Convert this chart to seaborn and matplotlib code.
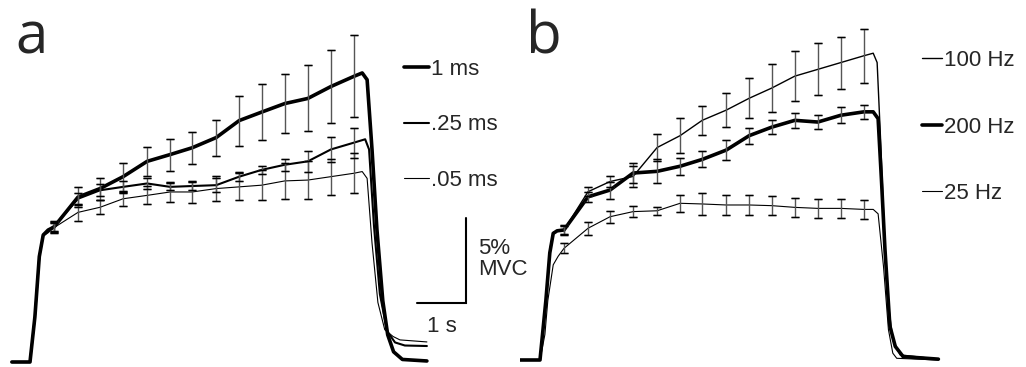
import numpy as np
import pandas as pd
import matplotlib
matplotlib.use("Agg")
import matplotlib.pyplot as plt
import seaborn as sns

sns.set_style("white")
plt.rcParams['font.family'] = ['Liberation Sans', 'DejaVu Sans']

# ---------------- data (time in s, force in % MVC) ----------------
t_err = [0.49, 0.98, 1.43, 1.90, 2.39, 2.86, 3.31, 3.80, 4.27, 4.73, 5.20, 5.67, 6.14, 6.61]

# Panel a : pulse width
a_labels = ["1 ms", ".25 ms", ".05 ms"]
a_rise_t = [-0.37, 0.0, 0.10, 0.19, 0.27, 0.37]
a_1ms_rise = [0, 0, 2.65, 6.2, 7.47, 7.76]
a_1ms_mean = [7.94, 9.7, 10.2, 10.9, 11.8, 12.2, 12.6, 13.2, 14.2, 14.7, 15.2, 15.5, 16.2, 16.8]
a_1ms_sem = [0.3, 0.6, 0.65, 0.82, 0.85, 0.94, 0.94, 1.06, 1.47, 1.65, 1.76, 1.94, 2.15, 2.41]
a_1ms_fall_t = [6.78, 6.88, 6.98, 7.08, 7.2, 7.3, 7.42, 7.6, 8.1]
a_1ms_fall = [17.0, 16.6, 12.5, 7.8, 3.6, 1.6, 0.6, 0.15, 0.06]

a_025_rise = [0, 0, 2.65, 6.2, 7.47, 7.7]
a_025_mean = [8.0, 9.6, 10.1, 10.3, 10.5, 10.3, 10.35, 10.4, 10.9, 11.3, 11.6, 11.8, 12.5, 12.9]
a_025_sem = [0.3, 0.35, 0.35, 0.35, 0.3, 0.2, 0.25, 0.4, 0.25, 0.25, 0.35, 0.6, 0.76, 0.88]
a_025_fall_t = [6.84, 6.92, 7.02, 7.14, 7.29, 7.45, 7.65, 8.1]
a_025_fall = [13.1, 12.5, 8.0, 4.0, 1.8, 1.15, 0.97, 0.94]

a_005_rise = [0, 0, 2.65, 6.2, 7.4, 7.6]
a_005_mean = [7.9, 8.8, 9.1, 9.6, 9.8, 10.0, 10.0, 10.2, 10.3, 10.4, 10.65, 10.7, 10.9, 11.1]
a_005_sem = [0.3, 0.5, 0.4, 0.4, 0.53, 0.6, 0.65, 0.76, 0.8, 0.88, 1.04, 1.1, 1.06, 1.18]
a_005_fall_t = [6.78, 6.88, 6.98, 7.1, 7.24, 7.41, 7.55, 8.1]
a_005_fall = [11.2, 10.8, 7.0, 3.5, 1.9, 1.5, 1.3, 1.18]

# Panel b : frequency
b_labels = ["100 Hz", "200 Hz", "25 Hz"]
b_rise_t = [-0.41, 0.0, 0.12, 0.2, 0.27, 0.35]
b_100_rise = [0, 0, 3.5, 6.5, 7.5, 7.6]
b_100_mean = [7.65, 9.9, 10.5, 10.8, 12.5, 13.2, 14.1, 14.7, 15.4, 16.0, 16.7, 17.1, 17.5, 17.9]
b_100_sem = [0.25, 0.25, 0.3, 0.6, 0.8, 1.05, 0.85, 1.0, 1.18, 1.41, 1.47, 1.53, 1.53, 1.59]
b_100_fall_t = [6.80, 6.88, 6.95, 7.02, 7.1, 7.2, 7.35, 8.13]
b_100_fall = [18.05, 17.5, 13.0, 8.0, 3.5, 1.2, 0.3, 0.05]

b_200_rise = [0, 0, 3.5, 6.3, 7.45, 7.6]
b_200_mean = [7.65, 9.6, 10.0, 11.0, 11.1, 11.4, 11.8, 12.35, 13.2, 13.7, 14.1, 14.0, 14.4, 14.6]
b_200_sem = [0.3, 0.3, 0.5, 0.6, 0.7, 0.5, 0.47, 0.59, 0.47, 0.41, 0.44, 0.41, 0.47, 0.41]
b_200_fall_t = [6.80, 6.90, 6.97, 7.04, 7.14, 7.25, 7.41, 8.13]
b_200_fall = [14.6, 14.2, 10.5, 6.5, 2.0, 0.8, 0.2, 0.05]

b_25_rise_t = [-0.41, 0.0, 0.10, 0.16, 0.27, 0.37]
b_25_rise = [0, 0, 1.5, 3.5, 5.6, 6.1]
b_25_mean = [6.57, 7.75, 8.43, 8.73, 8.78, 9.22, 9.18, 9.12, 9.12, 9.08, 8.98, 8.92, 8.92, 8.86]
b_25_sem = [0.29, 0.39, 0.35, 0.34, 0.25, 0.49, 0.62, 0.56, 0.56, 0.54, 0.54, 0.56, 0.57, 0.56]
b_25_fall_t = [6.80, 6.90, 7.01, 7.11, 7.2, 7.28, 8.13]
b_25_fall = [8.86, 8.6, 5.5, 1.8, 0.4, 0.1, 0.0]

scale_force = 5   # % MVC
scale_time = 1    # s

# ---------------- figure ----------------
fig = plt.figure(figsize=(10.26, 3.67), dpi=100)
ax_a = fig.add_axes([0, 0, 520 / 1026, 1])
ax_b = fig.add_axes([520 / 1026, 0, 506 / 1026, 1])
ax_a.set_xlim(-0.612, 10.0)
ax_a.set_ylim(-0.294, 21.29)
ax_b.set_xlim(-0.408, 9.918)
ax_b.set_ylim(-0.412, 21.18)


def draw(ax, rise_t, rise, mean, sem, fall_t, fall, lw, label):
    t = list(rise_t) + list(t_err) + list(fall_t)
    f = list(rise) + list(mean) + list(fall)
    df = pd.DataFrame({"t": t, "f": f})
    sns.lineplot(data=df, x="t", y="f", ax=ax, color="black", linewidth=lw,
                 sort=False, estimator=None, label=label)
    ax.errorbar(t_err, mean, yerr=sem, fmt="none", ecolor="#555555",
                elinewidth=1.0, capsize=3, capthick=1.0, zorder=3)
    ax.errorbar(t_err, mean, yerr=sem, fmt="none", ecolor="black",
                elinewidth=0, capsize=3, capthick=1.0, zorder=4)


draw(ax_a, a_rise_t, a_1ms_rise, a_1ms_mean, a_1ms_sem, a_1ms_fall_t, a_1ms_fall, 2.6, a_labels[0])
draw(ax_a, a_rise_t, a_025_rise, a_025_mean, a_025_sem, a_025_fall_t, a_025_fall, 1.5, a_labels[1])
draw(ax_a, a_rise_t, a_005_rise, a_005_mean, a_005_sem, a_005_fall_t, a_005_fall, 0.8, a_labels[2])

draw(ax_b, b_rise_t, b_100_rise, b_100_mean, b_100_sem, b_100_fall_t, b_100_fall, 1.0, b_labels[0])
draw(ax_b, b_rise_t, b_200_rise, b_200_mean, b_200_sem, b_200_fall_t, b_200_fall, 2.6, b_labels[1])
draw(ax_b, b_25_rise_t, b_25_rise, b_25_mean, b_25_sem, b_25_fall_t, b_25_fall, 0.8, b_labels[2])

for ax in (ax_a, ax_b):
    ax.set_axis_off()

leg_a = ax_a.legend(loc="upper left", bbox_to_anchor=(404 / 520, 1 - 59 / 367),
                    frameon=False, fontsize=16, handlelength=1.13, handletextpad=0.08,
                    labelspacing=1.55, borderaxespad=0, borderpad=0)
leg_b = ax_b.legend(loc="upper left", bbox_to_anchor=((922 - 520) / 506, 1 - 50 / 367),
                    frameon=False, fontsize=16, handlelength=0.9, handletextpad=0.08,
                    labelspacing=2.05, borderaxespad=0, borderpad=0)

# scale bar (panel a)
x0 = 8.9
y0 = 3.47
ax_a.plot([x0 - scale_time, x0, x0], [y0, y0, y0 + scale_force], color="black",
          linewidth=1.5, solid_joinstyle="miter")
ax_a.text(x0 + 0.24, y0 + scale_force / 2 + 0.1, f"{scale_force}%\nMVC", fontsize=16,
          va="center", ha="left", linespacing=1.0)
ax_a.text(x0 - scale_time / 2, y0 - 1.4, f"{scale_time} s", fontsize=16, va="center", ha="center")

fig.text(15 / 1026, 1 - 53 / 367, "a", fontsize=42, family=["Open Sans", "DejaVu Sans"],
         va="baseline", ha="left")
fig.text(526 / 1026, 1 - 53 / 367, "b", fontsize=42, family=["Open Sans", "DejaVu Sans"],
         va="baseline", ha="left")

fig.savefig("out.png", dpi=100)
